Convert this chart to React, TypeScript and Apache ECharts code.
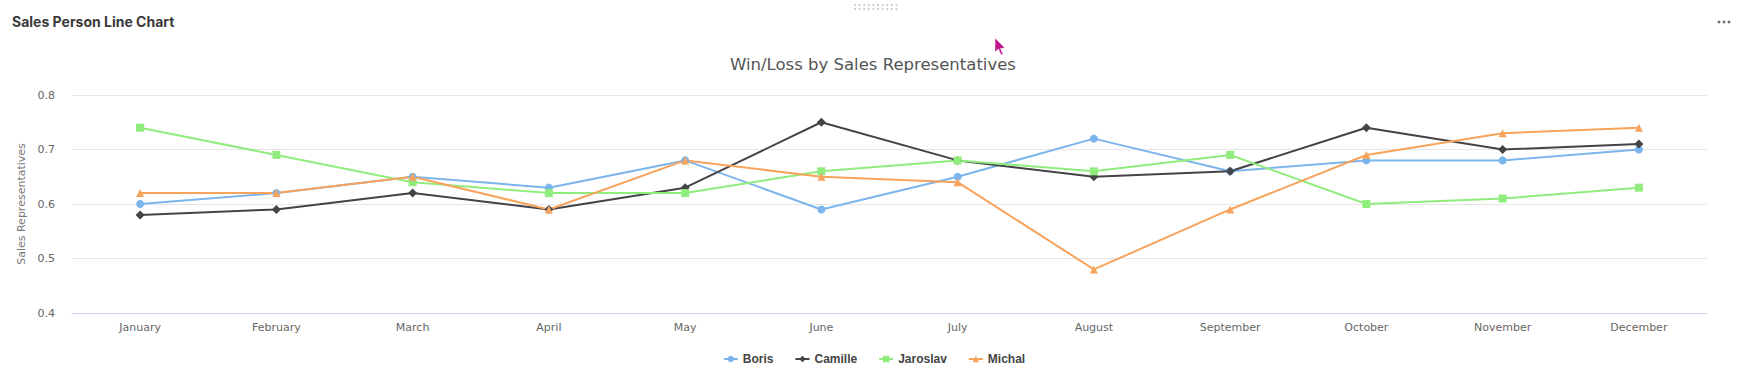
import React, { useEffect, useRef } from "react";
import * as echarts from "echarts";

const months = ["January", "February", "March", "April", "May", "June", "July", "August", "September", "October", "November", "December"];
const boris = [0.6, 0.62, 0.65, 0.63, 0.68, 0.59, 0.65, 0.72, 0.66, 0.68, 0.68, 0.7];
const camille = [0.58, 0.59, 0.62, 0.59, 0.63, 0.75, 0.68, 0.65, 0.66, 0.74, 0.7, 0.71];
const jaroslav = [0.74, 0.69, 0.64, 0.62, 0.62, 0.66, 0.68, 0.66, 0.69, 0.6, 0.61, 0.63];
const michal = [0.62, 0.62, 0.65, 0.59, 0.68, 0.65, 0.64, 0.48, 0.59, 0.69, 0.73, 0.74];

const seriesNames = ["Boris", "Camille", "Jaroslav", "Michal"];
const seriesData = [boris, camille, jaroslav, michal];
const seriesColors = ["#7cb5ec", "#434348", "#90ed7d", "#f7a35c"];
const seriesSymbols = ["circle", "diamond", "rect", "triangle"];

export default function App() {
  const ref = useRef<HTMLDivElement>(null);
  useEffect(() => {
    if (!ref.current) return;
    const chart = echarts.init(ref.current, null, { renderer: "svg" });
    const dots: any[] = [];
    for (let r = 0; r < 2; r++) {
      for (let c = 0; c < 10; c++) {
        dots.push({ type: "circle", shape: { cx: 855 + c * 4.6, cy: 5 + r * 4, r: 1.2 }, style: { fill: "#d0d0d0" } });
      }
    }
    chart.setOption({
      animation: false,
      backgroundColor: "#ffffff",
      title: {
        text: "Win/Loss by Sales Representatives",
        left: 868,
        top: 51,
        textAlign: "center",
        textStyle: { fontFamily: "DejaVu Sans", fontSize: 16.5, fontWeight: "normal", color: "#555555" },
      },
      graphic: [
        {
          type: "text",
          left: 12,
          top: 14,
          style: { text: "Sales Person Line Chart", fontFamily: "Inter", fontWeight: "bold", fontSize: 14, fill: "#3a3a3a" },
        },
        { type: "group", children: dots },
        { type: "circle", shape: { cx: 1719, cy: 22, r: 1.5 }, style: { fill: "#777" } },
        { type: "circle", shape: { cx: 1724, cy: 22, r: 1.5 }, style: { fill: "#777" } },
        { type: "circle", shape: { cx: 1729, cy: 22, r: 1.5 }, style: { fill: "#777" } },
        {
          type: "polygon",
          shape: { points: [[995, 38], [995, 52], [998.5, 49], [1001, 55], [1003, 54], [1000.5, 48.5], [1005, 48]] },
          style: { fill: "#c0168a", stroke: "#ffffff", lineWidth: 0.5 },
        },
      ],
      legend: {
        bottom: 4,
        left: "center",
        itemWidth: 14,
        itemHeight: 8,
        itemGap: 21,
        textStyle: { fontFamily: "Liberation Sans", fontSize: 12, fontWeight: "bold", color: "#444444" },
        data: seriesNames,
      },
      grid: { left: 72, right: 41, top: 95, bottom: 61 },
      xAxis: {
        type: "category",
        data: months,
        boundaryGap: true,
        axisLine: { lineStyle: { color: "#ccd6eb" } },
        axisTick: { show: false },
        axisLabel: { color: "#666666", fontSize: 11, fontFamily: "DejaVu Sans", margin: 9 },
      },
      yAxis: {
        type: "value",
        min: 0.4,
        max: 0.8,
        interval: 0.1,
        name: "Sales Representatives",
        nameLocation: "middle",
        nameGap: 40,
        nameTextStyle: { color: "#777777", fontSize: 11, fontFamily: "DejaVu Sans" },
        axisLine: { show: false },
        axisTick: { show: false },
        splitLine: { lineStyle: { color: "#e6e6e6" } },
        axisLabel: {
          color: "#666666",
          fontSize: 11,
          fontFamily: "DejaVu Sans",
          margin: 17,
          formatter: (v: number) => v.toFixed(1),
        },
      },
      series: seriesNames.map((n, i) => ({
        name: n,
        type: "line",
        data: seriesData[i],
        symbol: seriesSymbols[i],
        symbolSize: i === 1 ? 9 : 8,
        showAllSymbol: true,
        lineStyle: { width: 2, color: seriesColors[i] },
        itemStyle: { color: seriesColors[i] },
      })),
    });
    return () => chart.dispose();
  }, []);
  return <div ref={ref} style={{ position: "absolute", left: 0, top: 0, width: 1748, height: 374 }} />;
}
